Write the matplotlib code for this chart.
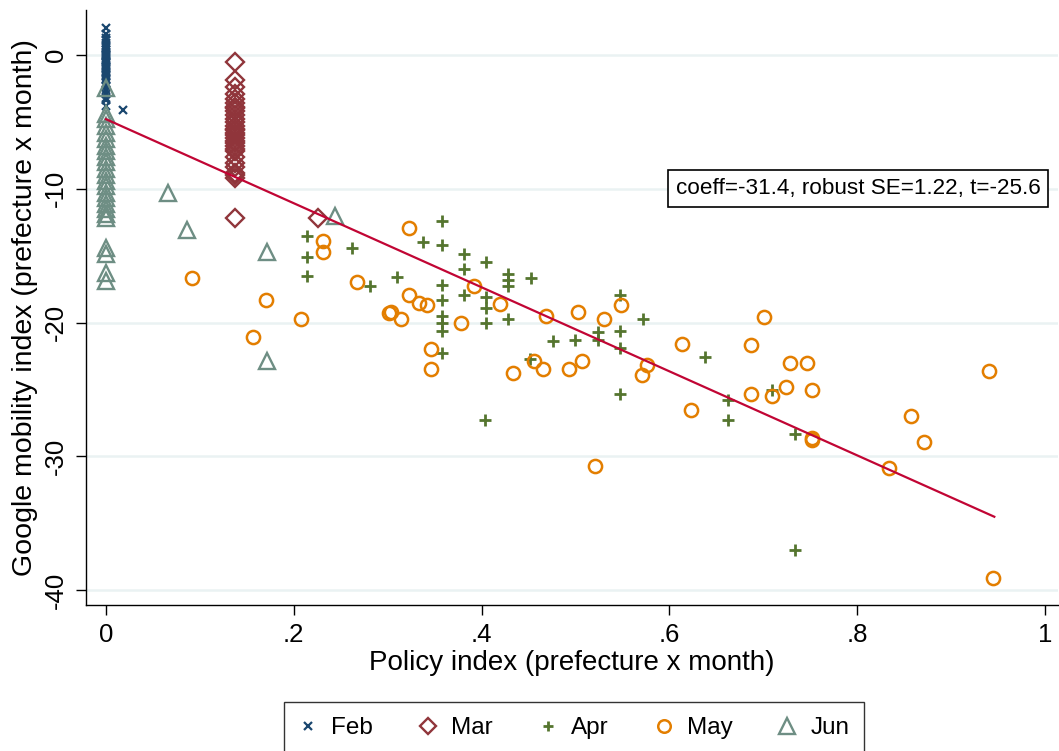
import matplotlib
matplotlib.use("Agg")
import matplotlib.pyplot as plt

plt.rcParams['font.family'] = ['Liberation Sans', 'DejaVu Sans']

# February: prefecture-month observations
feb_x = [0.0] * 32 + [0.018]
feb_y = [2.0, 1.6, 1.3, 1.1, 0.9, 0.7, 0.5, 0.4, 0.2, 0.1, 0.0, -0.1, -0.2,
         -0.4, -0.5, -0.6, -0.8, -0.9, -1.0, -1.2, -1.3, -1.5, -1.6, -1.8,
         -1.9, -2.1, -2.3, -2.6, -2.9, -3.2, -3.4, -3.8, -4.1]

# March
mar_x = [0.137] * 30 + [0.226]
mar_y = [-0.5, -1.9, -2.4, -2.9, -3.3, -3.6, -3.9, -4.2, -4.5, -4.8, -5.0,
         -5.3, -5.5, -5.8, -6.0, -6.2, -6.4, -6.6, -6.8, -7.0, -7.2, -7.6,
         -8.1, -8.4, -8.8, -9.0, -9.2, -4.0, -5.6, -12.2, -12.2]

# April
apr_x = [0.214, 0.214, 0.214, 0.262, 0.281, 0.358, 0.338, 0.358, 0.381,
         0.405, 0.381, 0.310, 0.428, 0.428, 0.428, 0.453, 0.358, 0.358,
         0.381, 0.405, 0.405, 0.428, 0.405, 0.358, 0.358, 0.358, 0.358,
         0.476, 0.500, 0.524, 0.524, 0.547, 0.547, 0.547, 0.452, 0.547,
         0.572, 0.638, 0.662, 0.662, 0.709, 0.734, 0.734, 0.404]
apr_y = [-13.5, -15.1, -16.5, -14.4, -17.3, -12.4, -14.0, -14.2, -14.9,
         -15.5, -16.0, -16.6, -16.4, -16.8, -17.3, -16.7, -17.2, -18.3,
         -17.9, -18.1, -18.9, -19.7, -20.0, -19.5, -20.0, -20.6, -22.3,
         -21.4, -21.3, -20.7, -21.3, -17.9, -20.6, -21.9, -22.7, -25.3,
         -19.7, -22.6, -25.8, -27.3, -25.0, -28.3, -37.0, -27.3]

# May
may_x = [0.231, 0.231, 0.092, 0.267, 0.170, 0.208, 0.301, 0.157, 0.323,
         0.304, 0.314, 0.323, 0.333, 0.342, 0.378, 0.392, 0.420, 0.346,
         0.346, 0.433, 0.456, 0.465, 0.469, 0.493, 0.503, 0.507, 0.530,
         0.548, 0.571, 0.701, 0.613, 0.687, 0.576, 0.728, 0.747, 0.940,
         0.687, 0.709, 0.724, 0.752, 0.623, 0.857, 0.871, 0.752, 0.752,
         0.834, 0.521, 0.945]
may_y = [-13.9, -14.7, -16.7, -17.0, -18.3, -19.7, -19.3, -21.1, -12.9,
         -19.2, -19.7, -17.9, -18.5, -18.7, -20.0, -17.3, -18.6, -22.0,
         -23.5, -23.8, -22.9, -23.5, -19.5, -23.5, -19.2, -22.9, -19.7,
         -18.7, -23.9, -19.6, -21.6, -21.7, -23.2, -23.0, -23.0, -23.6,
         -25.3, -25.5, -24.8, -25.0, -26.5, -27.0, -28.9, -28.6, -28.8,
         -30.9, -30.7, -39.1]

# June
jun_x = [0.0] * 24 + [0.066, 0.086, 0.171, 0.171, 0.244]
jun_y = [-2.5, -4.4, -4.8, -5.3, -5.8, -6.3, -6.8, -7.2, -7.6, -8.0, -8.5,
         -9.0, -9.4, -9.8, -10.3, -10.7, -11.1, -11.5, -11.9, -12.2, -14.4,
         -14.9, -16.3, -16.9, -10.3, -13.1, -14.7, -22.9, -12.0]

# Fitted line
fit_intercept = -4.8
fit_slope = -31.4
fit_range = [0.0, 0.946]
fit_label = "coeff=-31.4, robust SE=1.22, t=-25.6"

x_ticks = [0, 0.2, 0.4, 0.6, 0.8, 1.0]
x_ticklabels = ["0", ".2", ".4", ".6", ".8", "1"]
y_ticks = [0, -10, -20, -30, -40]
y_ticklabels = ["0", "-10", "-20", "-30", "-40"]

fig = plt.figure(figsize=(10.59, 7.51), dpi=100)
ax = fig.add_axes([0.0812, 0.1944, 0.918, 0.7923])

c_feb = "#1a476f"
c_mar = "#90353b"
c_apr = "#55752f"
c_may = "#e37e00"
c_jun = "#6e8e84"
c_fit = "#c10534"

ax.plot(feb_x, feb_y, linestyle="none", marker="x", ms=6, mew=1.6,
        color=c_feb, label="Feb")
ax.plot(mar_x, mar_y, linestyle="none", marker="D", ms=9, mew=1.7,
        mfc="none", mec=c_mar, label="Mar")
ax.plot(apr_x, apr_y, linestyle="none", marker="+", ms=8, mew=2.0,
        color=c_apr, label="Apr")
ax.plot(may_x, may_y, linestyle="none", marker="o", ms=9.5, mew=1.8,
        mfc="none", mec=c_may, label="May")
ax.plot(jun_x, jun_y, linestyle="none", marker="^", ms=12, mew=1.7,
        mfc="none", mec=c_jun, label="Jun")

fx = fit_range
fy = [fit_intercept + fit_slope * v for v in fx]
ax.plot(fx, fy, color=c_fit, lw=1.6, zorder=5)

ax.text(0.801, -10.0, fit_label, ha="center", va="center", fontsize=16.2,
        bbox=dict(boxstyle="square,pad=0.35", fc="white", ec="black", lw=1.2),
        zorder=6)

ax.set_xlim(-0.0213, 1.014)
ax.set_ylim(-41.1, 3.36)
ax.set_xticks(x_ticks)
ax.set_xticklabels(x_ticklabels, fontsize=18.5)
ax.set_yticks(y_ticks)
ax.set_yticklabels(y_ticklabels, fontsize=18.5, rotation=90, va="center")
ax.tick_params(axis="both", direction="out", length=7, width=1, color="black")
ax.tick_params(axis="x", pad=6)
ax.tick_params(axis="y", pad=6)
ax.yaxis.grid(True, color="#eaf2f3", lw=1.8)
ax.set_axisbelow(True)
for s in ["top", "right"]:
    ax.spines[s].set_visible(False)
for s in ["left", "bottom"]:
    ax.spines[s].set_linewidth(1.0)

ax.set_xlabel("Policy index (prefecture x month)", fontsize=20, labelpad=2)
ax.set_ylabel("Google mobility index (prefecture x month)", fontsize=20.5,
              labelpad=4)

leg = fig.legend(loc="upper center", bbox_to_anchor=(0.542, 0.0653), ncol=5,
                 fontsize=17.5, frameon=True, fancybox=False, markerscale=0.95,
                 handlelength=0.8, handletextpad=0.55, columnspacing=1.86,
                 borderpad=0.62, borderaxespad=0.0)
leg.get_frame().set_edgecolor("black")
leg.get_frame().set_linewidth(1.0)

fig.savefig("out.png", dpi=100)
